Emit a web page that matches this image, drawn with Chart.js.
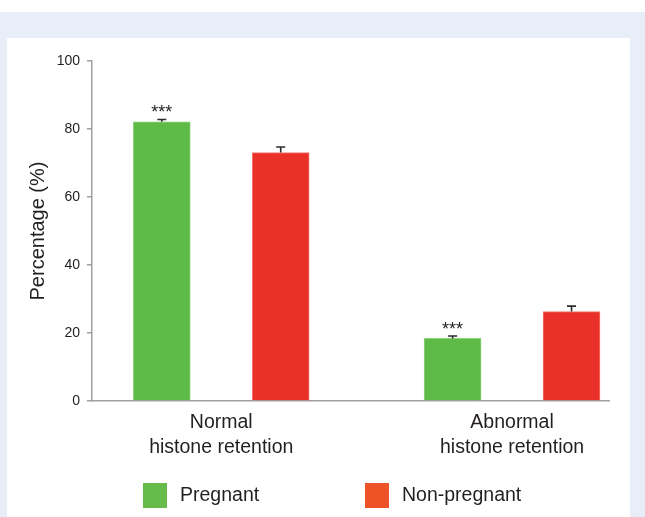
<!DOCTYPE html>
<html>
<head>
<meta charset="utf-8">
<script src="https://cdn.jsdelivr.net/npm/chart.js@4/dist/chart.umd.min.js"></script>
<style>
  html, body { margin: 0; padding: 0; background: #ffffff; }
  #frame { position: absolute; left: 0; top: 12px; width: 645px; height: 505px; background: #e7eef8; }
  #panel { position: absolute; left: 7px; top: 38px; width: 623px; height: 479px; background: #ffffff; }
  #panel canvas { display: block; }
</style>
</head>
<body>
<div id="frame"></div>
<div id="panel"><canvas id="c" width="623" height="479"></canvas></div>
<script>
// Histone retention categories and the two patient groups
const categories = [["Normal", "histone retention"], ["Abnormal", "histone retention"]];
const seriesNames = ["Pregnant", "Non-pregnant"];
const pregnant = [82.1, 18.4];
const nonPregnant = [73.1, 26.3];
const pregnantErr = [0.7, 0.7];
const nonPregnantErr = [1.6, 1.6];
const significance = ["***", "***"];
const yTicks = [0, 20, 40, 60, 80, 100];

// where each category group sits along the x axis, and the half-gap between its bars
const groupCenters = [1, 3.25];
const barOffset = 0.46;

const barFill = ["#5fbb47", "#e9312a"];
const barEdge = ["#8fd27c", "#f37a6c"];
const legendFill = ["#66bc4b", "#ee5227"];
const textColor = "#231f20";
const fontFamily = "'Liberation Sans', Arial, sans-serif";

function points(values, side) {
  return values.map((v, i) => ({ x: groupCenters[i] + side * barOffset, y: v }));
}

const errorBars = {
  id: "errorBars",
  afterDatasetsDraw(chart) {
    const ctx = chart.ctx;
    const ys = chart.scales.y;
    const errs = [pregnantErr, nonPregnantErr];
    ctx.save();
    ctx.strokeStyle = "#2b2b2b";
    ctx.lineWidth = 1.6;
    chart.data.datasets.forEach((ds, di) => {
      const meta = chart.getDatasetMeta(di);
      meta.data.forEach((bar, i) => {
        const v = ds.data[i].y;
        const top = ys.getPixelForValue(v + errs[di][i]);
        const base = ys.getPixelForValue(v);
        ctx.beginPath();
        ctx.moveTo(bar.x, base);
        ctx.lineTo(bar.x, top);
        ctx.moveTo(bar.x - 4.5, top);
        ctx.lineTo(bar.x + 4.5, top);
        ctx.stroke();
        if (di === 0 && significance[i]) {
          ctx.fillStyle = textColor;
          ctx.font = "18px " + fontFamily;
          ctx.textAlign = "center";
          ctx.textBaseline = "alphabetic";
          ctx.fillText(significance[i], bar.x, top - 1);
        }
      });
    });
    ctx.restore();
  }
};

const bottomLegend = {
  id: "bottomLegend",
  afterDraw(chart) {
    const ctx = chart.ctx;
    const boxX = [136, 358];
    const y = 445;
    ctx.save();
    ctx.font = "19.5px " + fontFamily;
    ctx.textBaseline = "middle";
    ctx.textAlign = "left";
    chart.data.datasets.forEach((ds, i) => {
      ctx.fillStyle = legendFill[i];
      ctx.fillRect(boxX[i], y, 24, 25);
      ctx.fillStyle = textColor;
      ctx.fillText(ds.label, boxX[i] + 37, y + 13);
    });
    ctx.restore();
  }
};

new Chart(document.getElementById("c"), {
  type: "bar",
  data: {
    datasets: [
      { label: seriesNames[0], data: points(pregnant, -1), backgroundColor: barFill[0], borderColor: barEdge[0], borderWidth: 1 },
      { label: seriesNames[1], data: points(nonPregnant, 1), backgroundColor: barFill[1], borderColor: barEdge[1], borderWidth: 1 }
    ]
  },
  options: {
    responsive: false,
    animation: false,
    events: [],
    layout: { padding: { left: 0, right: 21, top: 23, bottom: 0 } },
    datasets: { bar: { grouped: false, barThickness: 57 } },
    plugins: { legend: { display: false }, tooltip: { enabled: false } },
    scales: {
      x: {
        type: "linear",
        offset: false,
        min: 0,
        max: 4,
        afterFit(scale) { scale.height = 116; },
        afterBuildTicks(scale) { scale.ticks = groupCenters.map(v => ({ value: v })); },
        grid: { display: false, drawTicks: false, offset: false },
        border: { display: true, color: "#a0a0a0", width: 1.5 },
        ticks: {
          padding: 9.5,
          color: textColor,
          font: { family: fontFamily, size: 19.5, lineHeight: 1.28 },
          maxRotation: 0,
          autoSkip: false,
          callback(value) {
            const i = groupCenters.indexOf(value);
            return i >= 0 ? categories[i] : "";
          }
        }
      },
      y: {
        min: 0,
        max: 100,
        afterFit(scale) { scale.width = 85; },
        afterBuildTicks(scale) { scale.ticks = yTicks.map(v => ({ value: v })); },
        grid: { display: true, drawOnChartArea: false, drawTicks: true, tickLength: 5, color: "#a0a0a0", lineWidth: 1.5 },
        border: { display: true, color: "#a0a0a0", width: 1.5 },
        ticks: { padding: 7, color: textColor, font: { family: fontFamily, size: 14 } },
        title: { display: true, text: "Percentage (%)", color: textColor, font: { family: fontFamily, size: 20 }, padding: { top: 19, bottom: 0 } }
      }
    }
  },
  plugins: [errorBars, bottomLegend]
});
</script>
</body>
</html>
